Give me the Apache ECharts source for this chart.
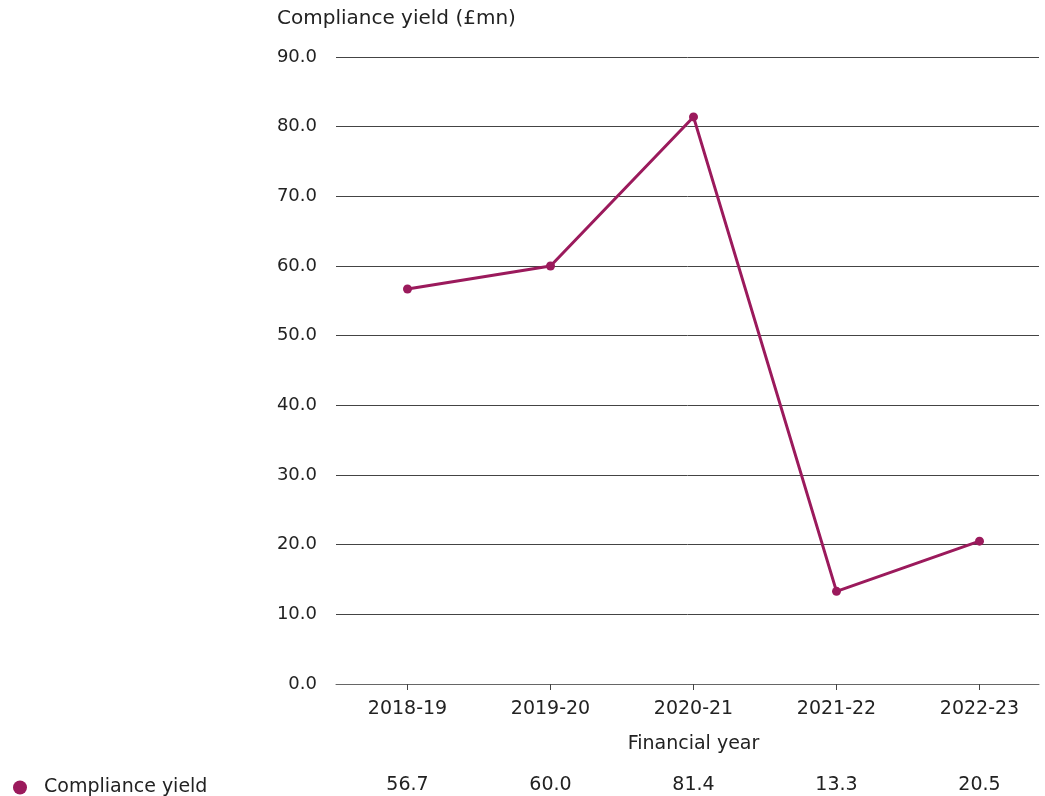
<!DOCTYPE html>
<html>
<head>
<meta charset="utf-8">
<script src="https://cdn.jsdelivr.net/npm/echarts@6/dist/echarts.min.js"></script>
<style>
  html, body { margin: 0; padding: 0; background: #fff; overflow: hidden; }
  #chart { width: 1060px; height: 796px; }
</style>
</head>
<body>
<div id="chart"></div>
<script>
// data
var years = ['2018-19', '2019-20', '2020-21', '2021-22', '2022-23'];
var complianceYield = [56.7, 60.0, 81.4, 13.3, 20.5];
var yMin = 0, yMax = 90, yStep = 10;

var lineColor = '#9b1a5c';
var textColor = '#222';
var font = 'DejaVu Sans, sans-serif';

var chart = echarts.init(document.getElementById('chart'));

var option = {
    animation: false,
    textStyle: { fontFamily: font },
    title: {
        text: 'Compliance yield (£mn)',
        left: 272,
        top: 4,
        textStyle: { fontSize: 20, fontWeight: 'normal', color: textColor, fontFamily: font }
    },
    legend: {
        data: ['Compliance yield'],
        left: 8,
        top: 773,
        icon: 'circle',
        itemWidth: 14,
        itemHeight: 14,
        itemGap: 10,
        textStyle: { fontSize: 19, color: textColor, fontFamily: font, padding: [0, 0, 0, 12] }
    },
    // grid 0 holds the line, grid 1 only draws the grid lines (they stop short)
    grid: [
        { left: 336, top: 57, width: 715, height: 627 },
        { left: 336, top: 57, width: 703, height: 627 }
    ],
    xAxis: [
        {
            gridIndex: 0,
            type: 'category',
            data: years,
            boundaryGap: true,
            axisLine: { show: false },
            axisTick: { show: true, alignWithLabel: true, length: 6, lineStyle: { color: '#444' } },
            axisLabel: { fontSize: 19, color: textColor, margin: 16 },
            name: 'Financial year',
            nameLocation: 'middle',
            nameGap: 51,
            nameTextStyle: { fontSize: 19, color: textColor }
        },
        {
            gridIndex: 1,
            type: 'category',
            data: years,
            axisLine: { show: true, lineStyle: { color: '#666', width: 1 } },
            axisTick: { show: false },
            axisLabel: { show: false }
        },
        {
            // data table row under the axis
            gridIndex: 0,
            type: 'category',
            data: complianceYield.map(function (v) { return v.toFixed(1); }),
            position: 'bottom',
            offset: 84,
            axisLine: { show: false },
            axisTick: { show: false },
            axisLabel: { fontSize: 19, color: textColor, margin: 8 }
        }
    ],
    yAxis: [
        {
            gridIndex: 0,
            type: 'value',
            min: yMin,
            max: yMax,
            show: false
        },
        {
            gridIndex: 1,
            type: 'value',
            min: yMin,
            max: yMax,
            interval: yStep,
            axisLine: { show: false },
            axisTick: { show: false },
            axisLabel: {
                fontSize: 18,
                color: textColor,
                margin: 19,
                formatter: function (v) { return v.toFixed(1); }
            },
            splitLine: { show: true, lineStyle: { color: '#444', width: 1 } }
        }
    ],
    series: [
        {
            name: 'Compliance yield',
            type: 'line',
            xAxisIndex: 0,
            yAxisIndex: 0,
            data: complianceYield,
            color: lineColor,
            lineStyle: { width: 3, color: lineColor },
            symbol: 'circle',
            symbolSize: 9,
            showSymbol: true,
            itemStyle: { color: lineColor }
        }
    ]
};

chart.setOption(option);
</script>
</body>
</html>
